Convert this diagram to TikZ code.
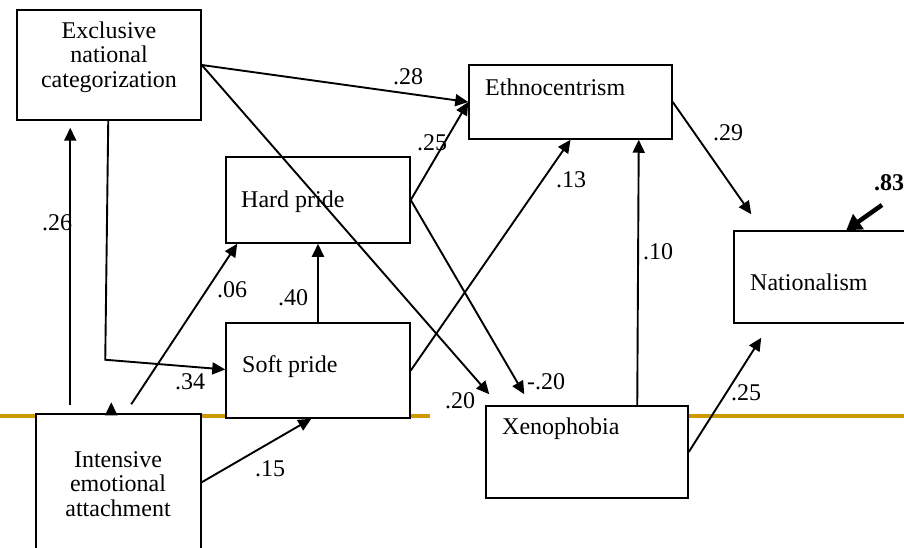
\documentclass[tikz,border=0pt]{standalone}
\usepackage{fontspec}
\setmainfont{Liberation Serif}
\usetikzlibrary{arrows.meta}
\definecolor{golden}{RGB}{204,153,0}
\begin{document}
\begin{tikzpicture}[x=1pt,y=-1pt,
  box/.style={draw, line width=1.5pt, fill=white, rectangle, inner sep=0pt},
  txt/.style={font=\fontsize{24}{24.5}\selectfont, inner sep=0pt, align=center},
  lab/.style={font=\fontsize{24}{25}\selectfont, inner sep=0pt},
  conn/.style={line width=1.9pt, -{Triangle[length=13pt,width=12pt]}},
]
\clip (0,0) rectangle (904,548);
% divider line
\draw[golden, line width=4pt] (0,416) -- (430,416);
\draw[golden, line width=4pt] (600,416) -- (904,416);
% boxes
\node[box, minimum width=184pt, minimum height=110pt] (ex) at (109,65) {};
\node[box, minimum width=184pt, minimum height=86pt] (hp) at (318,200) {};
\node[box, minimum width=184pt, minimum height=95pt] (sp) at (318,370.5) {};
\node[box, minimum width=165pt, minimum height=166pt] (ie) at (118.5,497) {};
\node[box, minimum width=203pt, minimum height=74pt] (et) at (570.5,102) {};
\node[box, minimum width=186pt, minimum height=92pt] (na) at (827,277) {};
\node[box, minimum width=202pt, minimum height=92pt] (xe) at (587,452) {};
% texts
\node[txt] (exT) at (109,57) {Exclusive\\national\\categorization};
\node[txt, anchor=west] (hpT) at (241,202) {Hard pride};
\node[txt, anchor=west] (spT) at (242,367) {Soft pride};
\node[txt] (ieT) at (118,484) {Intensive\\emotional\\attachment};
\node[txt, anchor=west] (etT) at (485,87) {Ethnocentrism};
\node[txt, anchor=west] (naT) at (750,282) {Nationalism};
\node[txt, anchor=west] (xeT) at (502,429) {Xenophobia};
% connectors
\draw[conn] ([xshift=35pt,yshift=8pt]ie.north west) -- ([xshift=54pt,yshift=-7pt]ex.south west);
\draw[conn] ([xshift=92pt]ex.south west) -- ++(-3,239) -- ([yshift=1pt]sp.west);
\draw[conn] ([xshift=96pt,yshift=9pt]ie.north west) -- ([xshift=12pt]hp.south west);
\draw[conn] ([xshift=76pt]ie.north west) -- ([xshift=76pt,yshift=11pt]ie.north west);
\draw[conn] ([yshift=-69pt]ie.north east) -- ([xshift=86pt]sp.south west);
\draw[conn] (sp.north) -- (hp.south);
\draw[conn] (ex.east) -- (et.west);
\draw[conn] (hp.east) -- (et.west);
\draw[conn] (ex.east) -- ([xshift=4pt,yshift=11pt]xe.north west);
\draw[conn] (hp.east) -- ([xshift=39pt,yshift=11pt]xe.north west);
\draw[conn] (sp.east) -- (et.south);
\draw[conn] ([xshift=152pt]xe.north west) -- ([xshift=-34pt]et.south east);
\draw[conn] (et.east) -- ([xshift=18pt,yshift=16pt]na.north west);
\draw[conn] (xe.east) -- ([xshift=28pt,yshift=-14pt]na.south west);
\coordinate (e83) at (882,205);
\draw[line width=4.5pt, -{Triangle[length=15pt,width=18pt]}] (e83) -- ([xshift=113pt]na.north west);
% labels
\node[lab] (l26) at (57,223) {.26};
\node[lab] (l34) at (190,382) {.34};
\node[lab] (l06) at (232,290) {.06};
\node[lab] (l15) at (270,469) {.15};
\node[lab] (l40) at (293,298) {.40};
\node[lab] (l28) at (408,77) {.28};
\node[lab] (l25a) at (432,143) {.25};
\node[lab] (l20a) at (460,401) {.20};
\node[lab] (l20b) at (546,382) {-.20};
\node[lab] (l13) at (571,180) {.13};
\node[lab] (l10) at (658,252) {.10};
\node[lab] (l29) at (728,133) {.29};
\node[lab] (l25b) at (746,393) {.25};
\node[lab, font=\fontsize{24}{25}\selectfont\bfseries, anchor=west] (l83) at (874,183) {.83};
\end{tikzpicture}
\end{document}
